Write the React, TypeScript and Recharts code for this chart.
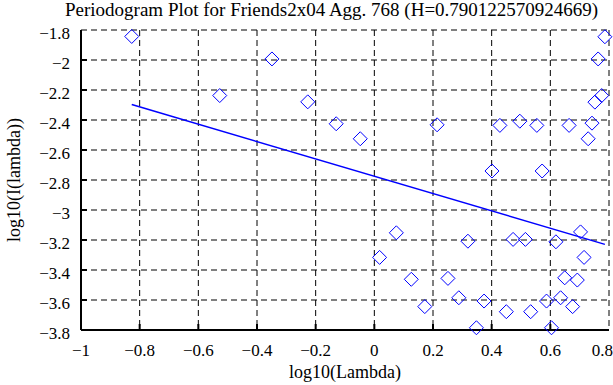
import React from "react";
import { ScatterChart, Scatter, XAxis, YAxis, CartesianGrid } from "recharts";

// log10 of frequency (x) and log10 of periodogram (y)
const logLambda = [
  -0.827, -0.527, -0.349, -0.227, -0.13, -0.048, 0.018, 0.075, 0.126, 0.172,
  0.214, 0.251, 0.288, 0.319, 0.348, 0.374, 0.401, 0.428, 0.45, 0.473,
  0.496, 0.515, 0.533, 0.554, 0.572, 0.587, 0.604, 0.619, 0.635, 0.649,
  0.664, 0.676, 0.692, 0.703, 0.715, 0.729, 0.742, 0.752, 0.763, 0.775, 0.786,
];
const logPeriodogram = [
  -1.843, -2.237, -1.993, -2.279, -2.425, -2.525, -3.316, -3.152, -3.462, -3.644,
  -2.432, -3.456, -3.585, -3.208, -3.785, -3.607, -2.74, -2.436, -3.678, -3.196,
  -2.408, -3.196, -3.678, -2.436, -2.74, -3.607, -3.785, -3.212, -3.585, -3.452,
  -2.436, -3.644, -3.467, -3.146, -3.316, -2.525, -2.421, -2.281, -1.993, -2.237, -1.845,
];

// least squares fit end points
const fitLambda = [-0.827, 0.786];
const fitValue = [-2.297, -3.229];

const xTicks = [-1, -0.8, -0.6, -0.4, -0.2, 0, 0.2, 0.4, 0.6, 0.8];
const yTicks = [-3.8, -3.6, -3.4, -3.2, -3, -2.8, -2.6, -2.4, -2.2, -2, -1.8];

const title = "Periodogram Plot for Friends2x04 Agg. 768 (H=0.790122570924669)";

const points = logLambda.map((x, i) => ({ x, y: logPeriodogram[i] }));
const fit = fitLambda.map((x, i) => ({ x, y: fitValue[i] }));

const fmt = (v: number) => (v < 0 ? "\u2212" + String(Math.abs(v)) : String(v));
const font = "'Liberation Serif', 'Times New Roman', serif";
const isEnd = (v: number, ticks: number[]) => v === ticks[0] || v === ticks[ticks.length - 1];

function Diamond(props: any) {
  const { cx, cy } = props;
  const r = 7;
  return (
    <path
      d={`M${cx},${cy - r}L${cx + r},${cy}L${cx},${cy + r}L${cx - r},${cy}Z`}
      fill="none"
      stroke="#0000ff"
      strokeWidth={1}
    />
  );
}

const NoShape = () => <g />;

function BottomTick(props: any) {
  const { x, y, payload } = props;
  // the last label sits at the page edge, keep it inside
  const last = payload.value === xTicks[xTicks.length - 1];
  return (
    <g>
      {!isEnd(payload.value, xTicks) && <line x1={x} y1={y} x2={x} y2={y - 6} stroke="#000" strokeWidth={2} />}
      <text
        x={last ? x + 4 : x}
        y={y + 26}
        textAnchor={last ? "end" : "middle"}
        fontSize={17}
        fontFamily={font}
        fill="#000"
      >
        {fmt(payload.value)}
      </text>
    </g>
  );
}

function TopTick(props: any) {
  const { x, y, payload } = props;
  if (isEnd(payload.value, xTicks)) return <g />;
  return <line x1={x} y1={y} x2={x} y2={y + 6} stroke="#000" strokeWidth={2} />;
}

function LeftTick(props: any) {
  const { x, y, payload } = props;
  return (
    <g>
      {!isEnd(payload.value, yTicks) && <line x1={x} y1={y} x2={x + 6} y2={y} stroke="#000" strokeWidth={2} />}
      <text x={x - 11} y={y + 9} textAnchor="end" fontSize={17} fontFamily={font} fill="#000">
        {fmt(payload.value)}
      </text>
    </g>
  );
}

function RightTick(props: any) {
  const { x, y, payload } = props;
  if (isEnd(payload.value, yTicks)) return <g />;
  return <line x1={x} y1={y} x2={x - 6} y2={y} stroke="#000" strokeWidth={2} />;
}

export default function App() {
  const axisLine = { stroke: "#000", strokeWidth: 2 };
  return (
    <div style={{ position: "absolute", left: 0, top: 0, width: 613, height: 385, background: "#fff" }}>
      <ScatterChart width={613} height={385} margin={{ top: 30, right: 4, bottom: 0, left: 0 }}>
        <CartesianGrid stroke="#000" strokeDasharray="6 4" strokeWidth={1} />
        <XAxis
          type="number"
          dataKey="x"
          domain={[-1, 0.8]}
          ticks={xTicks}
          interval={0}
          height={55}
          tickSize={0}
          tickMargin={0}
          tickLine={false}
          axisLine={axisLine}
          tick={BottomTick}
        />
        <XAxis
          xAxisId="top"
          orientation="top"
          type="number"
          dataKey="x"
          domain={[-1, 0.8]}
          ticks={xTicks}
          interval={0}
          height={0}
          tickSize={0}
          tickMargin={0}
          tickLine={false}
          axisLine={axisLine}
          tick={TopTick}
        />
        <YAxis
          type="number"
          dataKey="y"
          domain={[-3.8, -1.8]}
          ticks={yTicks}
          interval={0}
          width={81}
          tickSize={0}
          tickMargin={0}
          tickLine={false}
          axisLine={axisLine}
          tick={LeftTick}
        />
        <YAxis
          yAxisId="right"
          orientation="right"
          type="number"
          dataKey="y"
          domain={[-3.8, -1.8]}
          ticks={yTicks}
          interval={0}
          width={0}
          tickSize={0}
          tickMargin={0}
          tickLine={false}
          axisLine={axisLine}
          tick={RightTick}
        />
        <Scatter data={points} shape={Diamond} isAnimationActive={false} />
        <Scatter
          data={fit}
          shape={NoShape}
          line={{ stroke: "#0000ff", strokeWidth: 1.5 }}
          isAnimationActive={false}
        />
      </ScatterChart>
      <svg
        width={613}
        height={385}
        style={{ position: "absolute", left: 0, top: 0, pointerEvents: "none" }}
      >
        <text x={65} y={16} fontSize={19} fontFamily={font} fill="#000">
          {title}
        </text>
        <text x={345} y={378} textAnchor="middle" fontSize={18} fontFamily={font} fill="#000">
          log10(Lambda)
        </text>
        <text
          x={14}
          y={180}
          transform="rotate(-90 14 180)"
          textAnchor="middle"
          dominantBaseline="central"
          fontSize={18}
          fontFamily={font}
          fill="#000"
        >
          log10(I(lambda))
        </text>
      </svg>
    </div>
  );
}
